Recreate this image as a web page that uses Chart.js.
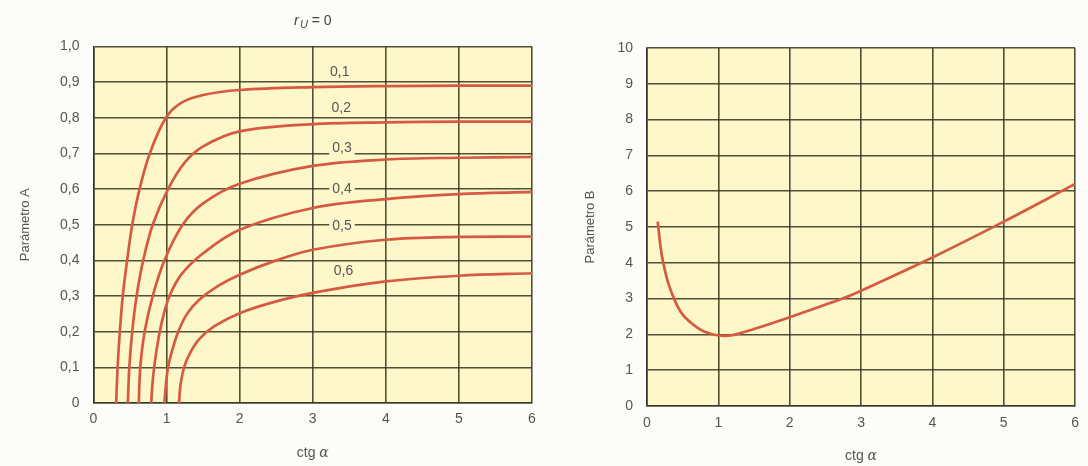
<!DOCTYPE html>
<html>
<head>
<meta charset="utf-8">
<script src="https://cdn.jsdelivr.net/npm/chart.js@4/dist/chart.umd.min.js"></script>
<style>
    html, body { margin: 0; padding: 0; background: #fcfcfa; }
    #wrap { position: relative; width: 1088px; height: 466px; }
    #chartA { position: absolute; left: 0; top: 0; }
    #chartB { position: absolute; left: 560px; top: 0; }
</style>
</head>
<body>
<div id="wrap">
    <canvas id="chartA" width="560" height="466"></canvas>
    <canvas id="chartB" width="528" height="466"></canvas>
</div>
<script>
// valores: [ctg a, parametro]
const curve01 = [[0.31, 0], [0.33, 0.1], [0.36, 0.2], [0.4, 0.3], [0.46, 0.4], [0.53, 0.5], [0.63, 0.6], [0.77, 0.7], [0.99, 0.8], [1.2, 0.842], [1.5, 0.864], [2, 0.878], [3, 0.886], [4, 0.889], [5, 0.89], [6, 0.89]];
const curve02 = [[0.47, 0], [0.49, 0.1], [0.53, 0.2], [0.59, 0.3], [0.68, 0.4], [0.81, 0.5], [1.02, 0.6], [1.25, 0.675], [1.5, 0.72], [2, 0.762], [3, 0.782], [4, 0.787], [5, 0.789], [6, 0.789]];
const curve03 = [[0.62, 0], [0.64, 0.1], [0.7, 0.2], [0.81, 0.3], [0.97, 0.4], [1.22, 0.5], [1.5, 0.56], [2, 0.615], [3, 0.665], [4, 0.683], [5, 0.688], [6, 0.69]];
const curve04 = [[0.79, 0], [0.805, 0.05], [0.83, 0.1], [0.88, 0.17], [0.95, 0.24], [1.04, 0.3], [1.2, 0.36], [1.5, 0.42], [2, 0.486], [3, 0.547], [4, 0.572], [5, 0.586], [6, 0.592]];
const curve05 = [[0.97, 0], [0.99, 0.05], [1.02, 0.1], [1.08, 0.15], [1.16, 0.2], [1.28, 0.25], [1.45, 0.29], [1.7, 0.328], [2, 0.36], [2.5, 0.4], [3, 0.43], [4, 0.458], [5, 0.466], [6, 0.467]];
const curve06 = [[1.17, 0], [1.19, 0.05], [1.24, 0.1], [1.32, 0.14], [1.45, 0.18], [1.65, 0.215], [2, 0.252], [2.5, 0.285], [3, 0.309], [4, 0.341], [5, 0.357], [6, 0.364]];
const curveB = [[0.15, 5.15], [0.2, 4.3], [0.25, 3.8], [0.3, 3.42], [0.4, 2.9], [0.5, 2.55], [0.65, 2.27], [0.8, 2.08], [1.0, 1.97], [1.2, 1.98], [1.5, 2.15], [2, 2.48], [2.74, 3], [3, 3.22], [4, 4.15], [5, 5.15], [6, 6.2]];

const curvesA = [curve01, curve02, curve03, curve04, curve05, curve06];
const curveNames = ["0,1", "0,2", "0,3", "0,4", "0,5", "0,6"];
const ticksA = ["0", "0,1", "0,2", "0,3", "0,4", "0,5", "0,6", "0,7", "0,8", "0,9", "1,0"];
const ticksB = ["0", "1", "2", "3", "4", "5", "6", "7", "8", "9", "10"];
const ticksX = ["0", "1", "2", "3", "4", "5", "6"];

const FONT = "'Liberation Sans', Arial, sans-serif";
const TEXT = "#555";
const GRID = "rgba(50, 50, 30, 0.85)";
const PAPER = "#fdf7ca";
const RED = "#d65a42";

// posiciones de las etiquetas de cada curva (en unidades del grafico)
const nameSpots = [[3.37, 0.929], [3.39, 0.827], [3.4, 0.715], [3.4, 0.6], [3.4, 0.495], [3.42, 0.371]];

const paperBg = {
    id: "paperBg",
    beforeDraw(chart) {
        const { ctx, chartArea: a } = chart;
        ctx.save();
        ctx.fillStyle = PAPER;
        ctx.fillRect(a.left, a.top, a.right - a.left, a.bottom - a.top);
        ctx.restore();
    },
};

// "ctg a" con la a en cursiva
function xTitle(y) {
    return {
        id: "xTitle",
        afterDraw(chart) {
            const { ctx, chartArea: a } = chart;
            ctx.save();
            ctx.fillStyle = TEXT;
            ctx.textBaseline = "middle";
            ctx.font = "14px " + FONT;
            const w1 = ctx.measureText("ctg ").width;
            ctx.font = "italic 14px 'DejaVu Serif', serif";
            const w2 = ctx.measureText("α").width;
            let x = (a.left + a.right) / 2 - (w1 + w2) / 2;
            ctx.font = "14px " + FONT;
            ctx.fillText("ctg ", x, y);
            ctx.font = "italic 14px 'DejaVu Serif', serif";
            ctx.fillText("α", x + w1, y);
            ctx.restore();
        },
    };
}

const curveLabels = {
    id: "curveLabels",
    afterDatasetsDraw(chart) {
        const { ctx, scales } = chart;
        ctx.save();
        ctx.font = "14px " + FONT;
        ctx.textAlign = "center";
        ctx.textBaseline = "middle";
        curveNames.forEach((name, i) => {
            const px = scales.x.getPixelForValue(nameSpots[i][0]);
            const py = scales.y.getPixelForValue(nameSpots[i][1]);
            const w = ctx.measureText(name).width;
            ctx.fillStyle = PAPER;
            ctx.fillRect(px - w / 2 - 3, py - 7, w + 6, 14);
            ctx.fillStyle = TEXT;
            ctx.fillText(name, px, py);
        });
        // titulo r_U = 0
        const cx = (chart.chartArea.left + chart.chartArea.right) / 2;
        const ty = 21;
        ctx.textAlign = "left";
        ctx.font = "italic 15px " + FONT;
        const wr = ctx.measureText("r").width + 1;
        ctx.font = "italic 11px " + FONT;
        const wu = ctx.measureText("U").width;
        ctx.font = "14px " + FONT;
        const we = ctx.measureText(" = 0").width;
        let x = cx - (wr + wu + we) / 2;
        ctx.fillStyle = "#444";
        ctx.font = "italic 15px " + FONT;
        ctx.fillText("r", x, ty);
        ctx.font = "italic 11px " + FONT;
        ctx.fillText("U", x + wr, ty + 4);
        ctx.font = "14px " + FONT;
        ctx.fillText(" = 0", x + wr + wu, ty);
        ctx.restore();
    },
};

function axes(yMax, yStep, yTicks, yTitle, yWidth, xHeight, xPad) {
    return {
        x: {
            type: "linear",
            min: 0,
            max: 6,
            afterFit: (s) => { s.height = xHeight; },
            ticks: {
                stepSize: 1,
                padding: xPad,
                color: TEXT,
                font: { family: FONT, size: 14 },
                callback: (v, i) => ticksX[i],
            },
            grid: { color: GRID, lineWidth: 1.6, drawTicks: false },
            border: { color: GRID, width: 1.6 },
        },
        y: {
            type: "linear",
            min: 0,
            max: yMax,
            afterFit: (s) => { s.width = yWidth; },
            ticks: {
                stepSize: yStep,
                padding: 14,
                color: TEXT,
                font: { family: FONT, size: 14 },
                callback: (v, i) => yTicks[i],
            },
            title: {
                display: true,
                text: yTitle,
                color: TEXT,
                font: { family: FONT, size: 13 },
                padding: 0,
            },
            grid: { color: GRID, lineWidth: 1.6, drawTicks: false },
            border: { color: GRID, width: 1.6 },
        },
    };
}

function lineSet(points) {
    return {
        data: points.map((p) => ({ x: p[0], y: p[1] })),
        showLine: true,
        borderColor: RED,
        borderWidth: 2.7,
        pointRadius: 0,
        tension: 0.35,
    };
}

new Chart(document.getElementById("chartA"), {
    type: "scatter",
    data: { datasets: curvesA.map(lineSet) },
    options: {
        responsive: false,
        animation: false,
        layout: { padding: { left: 18, top: 46.5, right: 28, bottom: 0 } },
        plugins: { legend: { display: false }, tooltip: { enabled: false } },
        scales: axes(1, 0.1, ticksA, "Parámetro A", 75.5, 63, 8),
    },
    plugins: [paperBg, curveLabels, xTitle(453)],
});

new Chart(document.getElementById("chartB"), {
    type: "scatter",
    data: { datasets: [lineSet(curveB)] },
    options: {
        responsive: false,
        animation: false,
        layout: { padding: { left: 23, top: 48, right: 4.5, bottom: 0 } },
        plugins: { legend: { display: false }, tooltip: { enabled: false } },
        scales: axes(10, 1, ticksB, "Parámetro B", 64, 60, 9),
    },
    plugins: [paperBg, xTitle(456)],
});
</script>
</body>
</html>
